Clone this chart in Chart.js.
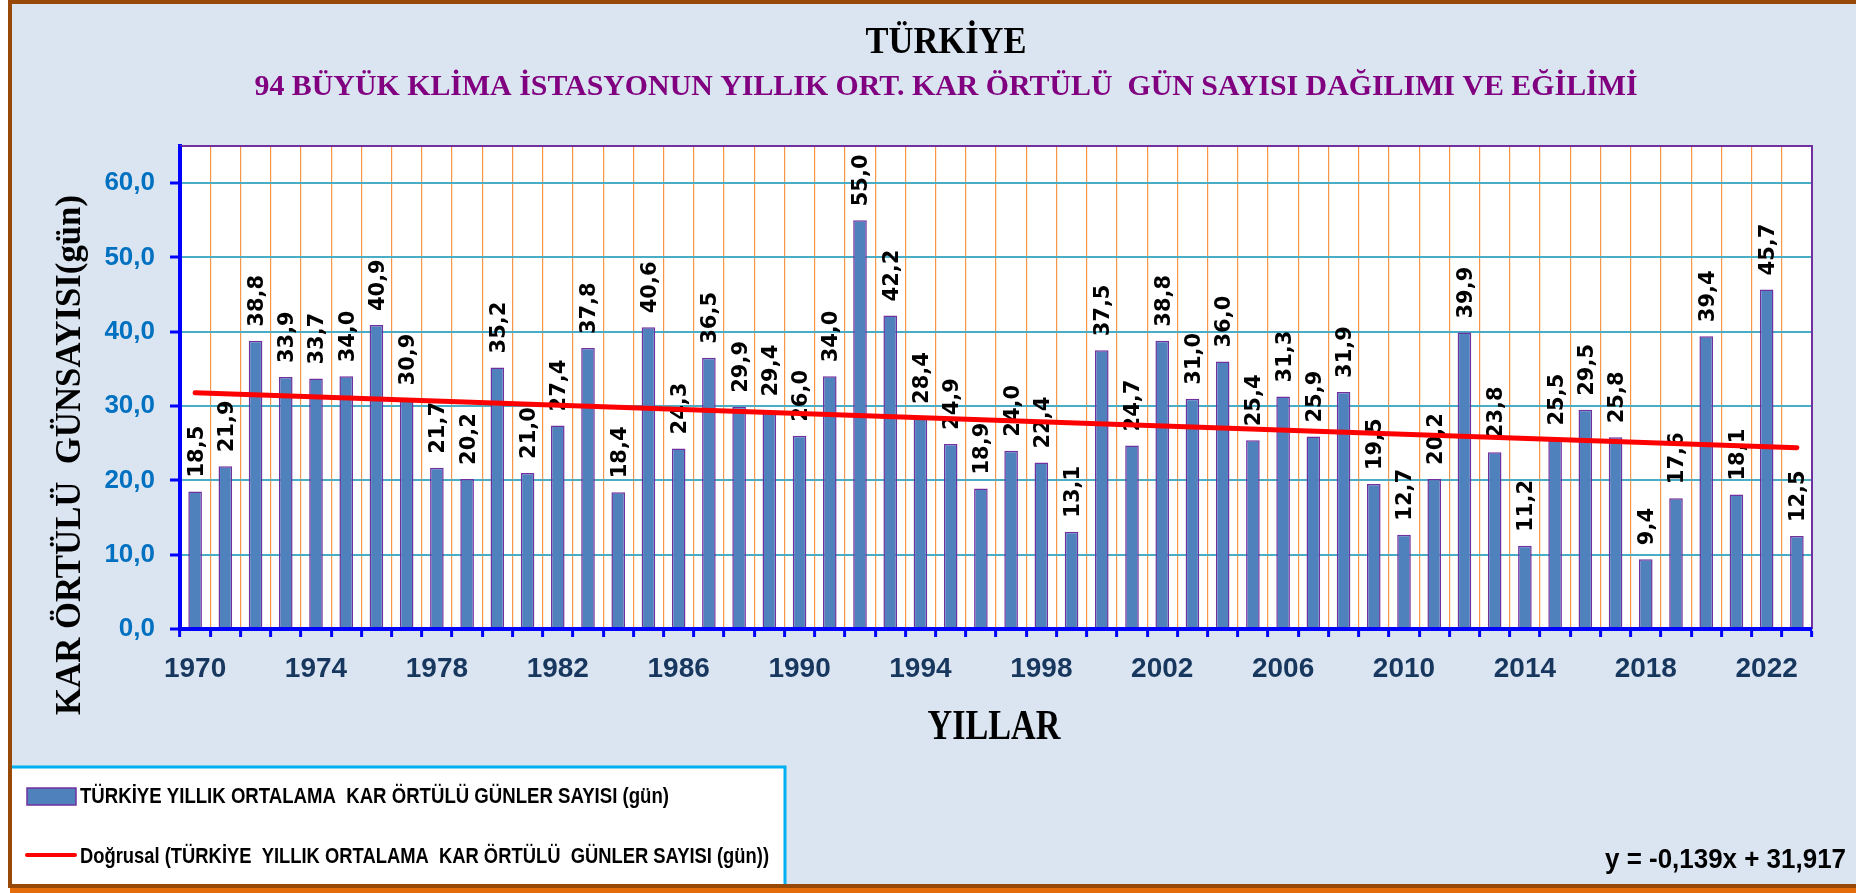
<!DOCTYPE html>
<html>
<head>
<meta charset="utf-8">
<title>Türkiye kar örtülü gün sayısı</title>
<script src="https://cdn.jsdelivr.net/npm/chart.js@4.4.1/dist/chart.umd.min.js"></script>
<style>
  html, body { margin: 0; padding: 0; background: #ffffff; }
  canvas { display: block; }
</style>
</head>
<body>
<canvas id="snow-chart" width="1856" height="893"></canvas>
<script>
// categories: one bar per year
const years = [
  '1970', '1971', '1972', '1973', '1974', '1975', '1976', '1977', '1978', '1979',
  '1980', '1981', '1982', '1983', '1984', '1985', '1986', '1987', '1988', '1989',
  '1990', '1991', '1992', '1993', '1994', '1995', '1996', '1997', '1998', '1999',
  '2000', '2001', '2002', '2003', '2004', '2005', '2006', '2007', '2008', '2009',
  '2010', '2011', '2012', '2013', '2014', '2015', '2016', '2017', '2018', '2019',
  '2020', '2021', '2022', '2023'
];

// yearly mean snow covered days (gün)
const snowDays = [
  18.5, 21.9, 38.8, 33.9, 33.7, 34.0, 40.9, 30.9, 21.7, 20.2,
  35.2, 21.0, 27.4, 37.8, 18.4, 40.6, 24.3, 36.5, 29.9, 29.4,
  26.0, 34.0, 55.0, 42.2, 28.4, 24.9, 18.9, 24.0, 22.4, 13.1,
  37.5, 24.7, 38.8, 31.0, 36.0, 25.4, 31.3, 25.9, 31.9, 19.5,
  12.7, 20.2, 39.9, 23.8, 11.2, 25.5, 29.5, 25.8, 9.4, 17.6,
  39.4, 18.1, 45.7, 12.5
];

// only these years get a label under the axis
const yearTickLabels = ['1970', '1974', '1978', '1982', '1986', '1990', '1994', '1998', '2002', '2006', '2010', '2014', '2018', '2022'];
const yTicks = [0, 10, 20, 30, 40, 50, 60];

// ends of the linear trend (y = -0,139x + 31,917), first and last year
const trendStart = 31.8;
const trendEnd = 24.4;

const titleText = 'TÜRKİYE';
const subtitleText = '94 BÜYÜK KLİMA İSTASYONUN YILLIK ORT. KAR ÖRTÜLÜ  GÜN SAYISI DAĞILIMI VE EĞİLİMİ';
const xTitleText = 'YILLAR';
const yTitleText = 'KAR ÖRTÜLÜ  GÜNSAYISI(gün)';
const barLegendText = 'TÜRKİYE YILLIK ORTALAMA  KAR ÖRTÜLÜ GÜNLER SAYISI (gün)';
const trendLegendText = 'Doğrusal (TÜRKİYE  YILLIK ORTALAMA  KAR ÖRTÜLÜ  GÜNLER SAYISI (gün))';
const equationText = 'y = -0,139x + 31,917';

const trendValues = snowDays.map((v, i) => {
  if (i === 0) return trendStart;
  if (i === snowDays.length - 1) return trendEnd;
  return null;
});

const fmt = (v) => v.toFixed(1).replace('.', ',');

const serif = '"Liberation Serif", "Times New Roman", serif';
const narrow = '"Liberation Sans Narrow", "Liberation Sans", Arial, sans-serif';

// draws bold text squeezed/stretched to a measured width and cap height
function drawFitText(ctx, text, o) {
  ctx.save();
  const size = o.cap / o.capRatio;
  ctx.font = 'bold ' + size + 'px ' + o.family;
  const w = ctx.measureText(text).width;
  ctx.translate(o.x, o.y);
  if (o.rotate) ctx.rotate(o.rotate);
  ctx.scale(o.width / w, 1);
  ctx.fillStyle = o.color;
  ctx.textAlign = o.align || 'center';
  ctx.textBaseline = 'alphabetic';
  ctx.fillText(text, 0, 0);
  ctx.restore();
}

const framePlugin = {
  id: 'frame',
  beforeDraw(chart) {
    const { ctx, chartArea } = chart;
    ctx.save();
    ctx.fillStyle = '#ffffff';
    ctx.fillRect(0, 0, chart.width, chart.height);
    ctx.fillStyle = '#dbe5f1';
    ctx.fillRect(12, 4, chart.width - 12, 880);
    ctx.fillStyle = '#ffffff';
    ctx.fillRect(chartArea.left, chartArea.top, chartArea.right - chartArea.left, chartArea.bottom - chartArea.top);
    ctx.restore();
  },
  beforeDatasetsDraw(chart) {
    const { ctx, chartArea } = chart;
    ctx.save();
    ctx.strokeStyle = '#7030a0';
    ctx.lineWidth = 2;
    ctx.beginPath();
    ctx.moveTo(chartArea.left, chartArea.top);
    ctx.lineTo(chartArea.right, chartArea.top);
    ctx.lineTo(chartArea.right, chartArea.bottom);
    ctx.stroke();
    ctx.restore();
  },
  afterDatasetsDraw(chart) {
    // blue axis lines sit over the bar feet
    const { ctx, chartArea } = chart;
    ctx.save();
    ctx.strokeStyle = '#0000ff';
    ctx.lineWidth = 4;
    ctx.beginPath();
    ctx.moveTo(chartArea.left, chartArea.top);
    ctx.lineTo(chartArea.left, chartArea.bottom);
    ctx.lineTo(chartArea.right, chartArea.bottom);
    ctx.stroke();
    ctx.restore();
  },
  afterDraw(chart) {
    const ctx = chart.ctx;
    ctx.save();
    // orange shadow and brown frame
    ctx.fillStyle = '#e46c0a';
    ctx.fillRect(10, 888, chart.width - 10, 5);
    ctx.fillStyle = '#984807';
    ctx.fillRect(8, 0, 4, 888);
    ctx.fillRect(8, 0, chart.width - 8, 4);
    ctx.fillRect(8, 884, chart.width - 8, 4);
    ctx.restore();
  }
};

const barLabelPlugin = {
  id: 'barLabels',
  afterDatasetDraw(chart, args) {
    if (args.index !== 0) return;
    const ctx = chart.ctx;
    ctx.save();
    ctx.font = 'bold 21px "DejaVu Sans", Verdana, sans-serif';
    ctx.fillStyle = '#000000';
    ctx.textAlign = 'left';
    ctx.textBaseline = 'middle';
    args.meta.data.forEach((bar, i) => {
      ctx.save();
      ctx.translate(bar.x + 2, bar.y - 14);
      ctx.rotate(-Math.PI / 2);
      ctx.fillText(fmt(snowDays[i]), 0, 0);
      ctx.restore();
    });
    ctx.restore();
  }
};

const textPlugin = {
  id: 'texts',
  afterDraw(chart) {
    const ctx = chart.ctx;
    const area = chart.chartArea;
    const ds = chart.data.datasets;

    drawFitText(ctx, titleText, { x: 946, y: 53, width: 161, cap: 25, capRatio: 0.655, family: serif, color: '#000000' });
    drawFitText(ctx, subtitleText, { x: 946, y: 95, width: 1383, cap: 19, capRatio: 0.655, family: serif, color: '#800080' });
    drawFitText(ctx, xTitleText, { x: (area.left + area.right) / 2 - 2, y: 739, width: 133, cap: 28, capRatio: 0.655, family: serif, color: '#000000' });
    drawFitText(ctx, yTitleText, { x: 80, y: 455, width: 520, cap: 23, capRatio: 0.655, family: serif, color: '#000000', rotate: -Math.PI / 2 });

    // legend box
    ctx.save();
    ctx.fillStyle = '#ffffff';
    ctx.fillRect(12, 766, 774, 118);
    ctx.strokeStyle = '#00b0f0';
    ctx.lineWidth = 3;
    ctx.beginPath();
    ctx.moveTo(12, 767);
    ctx.lineTo(785, 767);
    ctx.lineTo(785, 884);
    ctx.stroke();

    ctx.fillStyle = ds[0].backgroundColor;
    ctx.fillRect(27, 788, 49, 17);
    ctx.strokeStyle = ds[0].borderColor;
    ctx.lineWidth = 1.5;
    ctx.strokeRect(27, 788, 49, 17);

    ctx.strokeStyle = ds[1].borderColor;
    ctx.lineWidth = 4;
    ctx.lineCap = 'round';
    ctx.beginPath();
    ctx.moveTo(27, 855);
    ctx.lineTo(75, 855);
    ctx.stroke();
    ctx.restore();

    drawFitText(ctx, barLegendText, { x: 80, y: 803, width: 589, cap: 15, capRatio: 0.688, family: narrow, color: '#000000', align: 'left' });
    drawFitText(ctx, trendLegendText, { x: 80, y: 863, width: 689, cap: 15, capRatio: 0.688, family: narrow, color: '#000000', align: 'left' });

    drawFitText(ctx, equationText, { x: 1846, y: 868, width: 241, cap: 19.5, capRatio: 0.688, family: narrow, color: '#000000', align: 'right' });
  }
};

new Chart(document.getElementById('snow-chart'), {
  data: {
    labels: years,
    datasets: [
      {
        type: 'bar',
        label: barLegendText,
        data: snowDays,
        backgroundColor: '#4f81bd',
        borderColor: '#7030a0',
        borderWidth: 1.5,
        barPercentage: 0.45,
        categoryPercentage: 1,
        order: 1
      },
      {
        type: 'line',
        label: trendLegendText,
        data: trendValues,
        borderColor: '#ff0000',
        borderWidth: 5,
        borderCapStyle: 'round',
        pointRadius: 0,
        spanGaps: true,
        order: 0
      }
    ]
  },
  options: {
    responsive: false,
    animation: false,
    devicePixelRatio: 1,
    layout: { padding: { left: 0, top: 146, right: 44, bottom: 0 } },
    plugins: {
      legend: { display: false },
      title: { display: false },
      tooltip: { enabled: false }
    },
    scales: {
      x: {
        offset: true,
        grid: {
          offset: true,
          color: '#f79646',
          lineWidth: 1.2,
          tickColor: '#0000ff',
          tickWidth: 3,
          tickLength: 8
        },
        border: { color: '#0000ff', width: 4 },
        ticks: {
          autoSkip: false,
          maxRotation: 0,
          minRotation: 0,
          padding: 15,
          color: '#17375e',
          font: { family: narrow, size: 28, weight: 'bold' },
          callback: function (value) {
            const label = this.getLabelForValue(value);
            return yearTickLabels.includes(label) ? label : '';
          }
        },
        afterFit: (scale) => { scale.height = 264; }
      },
      y: {
        min: 0,
        max: 65,
        grid: {
          color: '#4bacc6',
          lineWidth: 2,
          tickColor: '#0000ff',
          tickWidth: 3,
          tickLength: 10
        },
        border: { color: '#0000ff', width: 4 },
        ticks: {
          padding: 15,
          color: '#0070c0',
          font: { family: narrow, size: 26, weight: 'bold' },
          callback: (value) => fmt(value)
        },
        afterBuildTicks: (scale) => { scale.ticks = yTicks.map((v) => ({ value: v })); },
        afterFit: (scale) => { scale.width = 180; }
      }
    }
  },
  plugins: [framePlugin, barLabelPlugin, textPlugin]
});
</script>
</body>
</html>
